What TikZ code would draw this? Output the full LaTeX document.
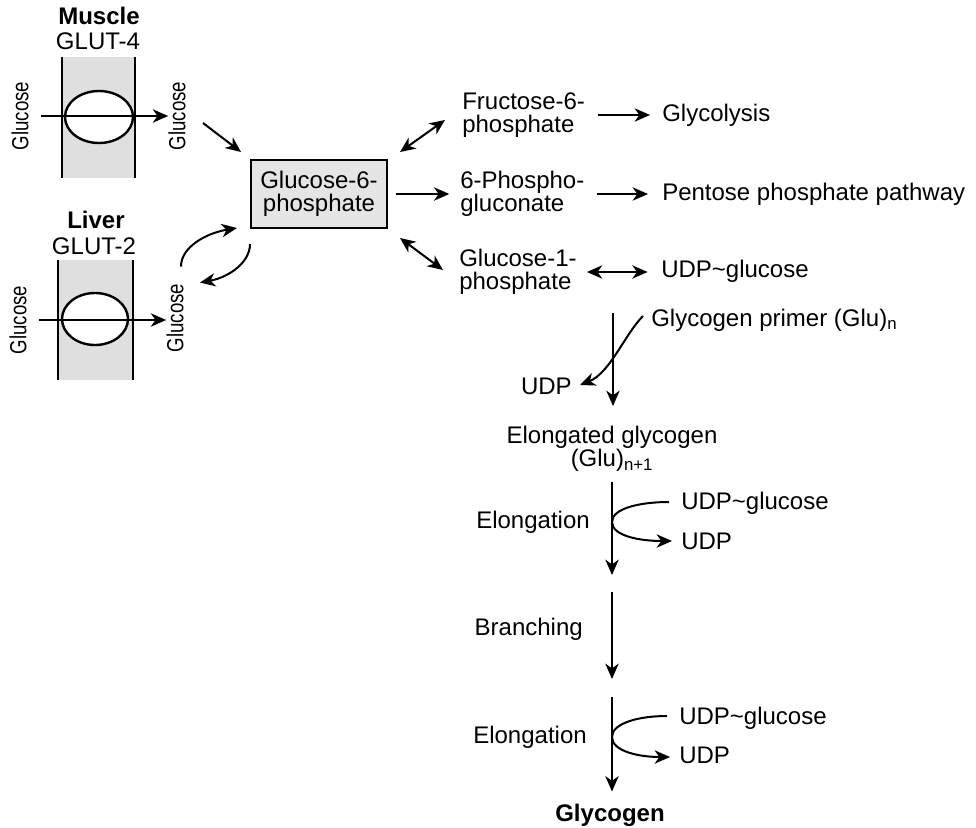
\documentclass[tikz,border=0pt]{standalone}
\usepackage{fontspec}
\setmainfont{Liberation Sans}
\usetikzlibrary{arrows.meta}

\tikzset{
  lbl/.style={inner sep=0pt, font=\fontsize{18}{17.5}\selectfont},
  lblb/.style={inner sep=0pt, font=\bfseries\fontsize{18}{17.5}\selectfont},
  vlbl/.style={inner sep=0pt, rotate=90, xscale=0.8, font=\fontsize{17.5}{18}\selectfont},
  arr/.style={line width=1.5pt, -{Stealth[length=11.5pt,width=10pt,inset=3.5pt]}},
  dblarr/.style={line width=1.5pt, {Stealth[length=11.5pt,width=10pt,inset=3.5pt]}-{Stealth[length=11.5pt,width=10pt,inset=3.5pt]}},
  membrane/.style={fill=gray!25},
  wall/.style={line width=2.2pt},
  carrier/.style={line width=1.8pt, fill=white},
}

\begin{document}
\begin{tikzpicture}[x=0.75pt, y=-0.75pt]
\useasboundingbox (0,0) rectangle (976,828);

% muscle cell membrane
\node[lblb] (muscle) at (99,16) {Muscle};
\node[lbl] (glut4) at (98,41) {GLUT-4};
\fill[membrane] (62,57) rectangle (135,178);
\draw[wall] (62,57) -- (62,178) (135,57) -- (135,178);
\draw[carrier] (99,117) ellipse [x radius=34, y radius=26];
\node[vlbl] (glcMin) at (20,116) {Glucose};
\node[vlbl] (glcMout) at (177,116) {Glucose};
\draw[arr, shorten <=9pt] (glcMin.south) -- (glcMin.south -| glcMout.north);

% liver cell membrane
\node[lblb] (liver) at (96,220) {Liver};
\node[lbl] (glut2) at (94,246) {GLUT-2};
\fill[membrane] (58,260) rectangle (133,380);
\draw[wall] (58,260) -- (58,380) (133,260) -- (133,380);
\draw[carrier] (95,319) ellipse [x radius=33, y radius=26];
\node[vlbl] (glcLin) at (18,320) {Glucose};
\node[vlbl] (glcLout) at (175,318) {Glucose};
\draw[arr, shorten <=9pt] (glcLin.south) -- (glcLin.south -| glcLout.north);

% central metabolite
\node[lbl, draw, line width=1.5pt, fill=gray!20, minimum width=102pt, minimum height=51pt, align=center] (g6p) at (319,194) {Glucose-6-\\phosphate};

\draw[arr] ([shift={(26,7)}]glcMout.center) -- ([shift={(-9,-7)}]g6p.north west);
\draw[arr] ([shift={(6,-17)}]glcLout.east) .. controls +(0,-20) and +(-30,5) .. ([shift={(-13,-1)}]g6p.south west);
\draw[arr] ([shift={(0,15)}]g6p.south west) .. controls +(0,19) and +(28,-5) .. ([shift={(25,-1)}]glcLout.east);

% fates of glucose-6-phosphate
\node[lbl, anchor=west, align=left] (f6p) at (462,115) {Fructose-6-\\phosphate};
\node[lbl, anchor=west] (glyc) at (662,115) {Glycolysis};
\node[lbl, anchor=west, align=left] (pgl) at (460,194) {6-Phospho-\\gluconate};
\node[lbl, anchor=west] (ppp) at (662,194) {Pentose phosphate pathway};
\node[lbl, anchor=west, align=left] (g1p) at (459,272) {Glucose-1-\\phosphate};
\node[lbl, anchor=west] (udpg) at (661,271) {UDP\textasciitilde glucose};

\draw[dblarr] ([shift={(12,-7)}]g6p.north east) -- ([shift={(-17,5)}]f6p.west);
\draw[arr] ([xshift=6pt]g6p.east) -- ([xshift=-8pt]pgl.west);
\draw[dblarr] ([shift={(12,9)}]g6p.south east) -- ([shift={(-16,-2)}]g1p.west);

\draw[arr, shorten <=9.5pt, shorten >=9pt] (f6p.east) -- (glyc.west);
\draw[arr, shorten <=9pt, shorten >=10.5pt] (pgl.east) -- (pgl.east -| ppp.west);
\draw[dblarr, shorten <=7.5pt, shorten >=10pt] (g1p.east) -- (g1p.east -| udpg.west);

% glycogen synthesis
\coordinate (top) at (613,313);
\node[lbl, anchor=west] (primer) at (651,320) {Glycogen primer (Glu)\textsubscript{n}};
\node[lbl, anchor=east] (udp1) at (572,386) {UDP};
\node[lbl, anchor=north, align=center] (elong) at (612,426) {Elongated glycogen\\(Glu)\textsubscript{n+1}};
\draw[arr, shorten >=15pt] (top) -- (top |- elong.north);
\draw[arr] ([shift={(-8,-4)}]primer.west) .. controls +(-18,18) and +(30,-12) .. ([shift={(8,-1)}]udp1.east);

\coordinate (a1) at (612,575);
\coordinate (m1) at (612,522);
\node[lbl, anchor=east] (elg1) at (590,522) {Elongation};
\node[lbl, anchor=west] (ugA) at (681,503) {UDP\textasciitilde glucose};
\node[lbl, anchor=west] (udpA) at (681,541) {UDP};
\draw[arr, shorten <=7pt] (elong.south) -- (a1);
\draw[arr] ([shift={(-12,-1)}]ugA.west) .. controls +(-28,0) and +(0,-14) .. (m1) .. controls +(0,14) and +(-32,0) .. ([shift={(-9,0)}]udpA.west);

\coordinate (b0) at (612,592);
\coordinate (b1) at (612,679);
\node[lbl, anchor=east] (branch) at (583,629) {Branching};
\draw[arr] (b0) -- (b1);

\coordinate (c0) at (612,697);
\coordinate (m2) at (612,737);
\node[lblb] (glycogen) at (610,815) {Glycogen};
\node[lbl, anchor=east] (elg2) at (587,737) {Elongation};
\node[lbl, anchor=west] (ugB) at (679,718) {UDP\textasciitilde glucose};
\node[lbl, anchor=west] (udpB) at (679,755) {UDP};
\draw[arr, shorten >=9pt] (c0) -- (c0 |- glycogen.north);
\draw[arr] ([shift={(-12,-2)}]ugB.west) .. controls +(-28,0) and +(0,-14) .. (m2) .. controls +(0,14) and +(-32,0) .. ([shift={(-9,2)}]udpB.west);

\end{tikzpicture}
\end{document}
